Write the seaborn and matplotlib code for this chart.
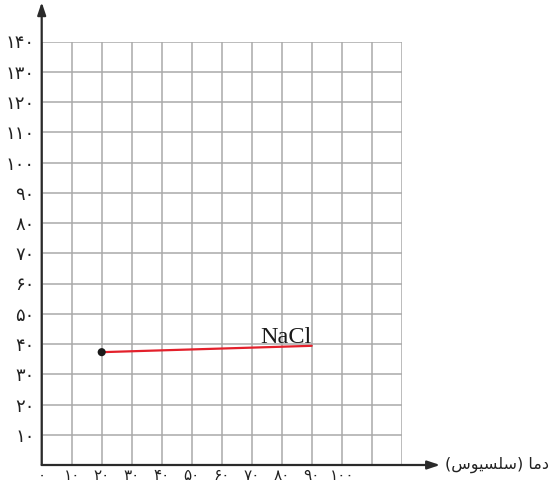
import matplotlib
matplotlib.use("Agg")
import matplotlib.pyplot as plt
import seaborn as sns
import pandas as pd

# data
temps = [20, 90]
solubility = [37.3, 39.4]
salt = "NaCl"
x_ticks = list(range(0, 101, 10))
y_ticks = list(range(10, 141, 10))
x_grid = list(range(0, 121, 10))
y_grid = list(range(0, 141, 10))
# "دما (سلسیوس)" written in shaped, visual order so matplotlib draws it joined
x_label = "(\uFEB1\uFEEE\uFBFF\uFEB4\uFEE0\uFEB3) \uFE8E\uFEE3\uFEA9"

FA_DIGITS = str.maketrans("0123456789", "۰۱۲۳۴۵۶۷۸۹")


def fa(n):
    return str(n).translate(FA_DIGITS)


sns.set_style("white")
plt.rcParams["font.family"] = ["DejaVu Sans"]

df = pd.DataFrame({"temp": temps, "sol": solubility})

fig = plt.figure(figsize=(5.52, 4.88), dpi=100)
ax = fig.add_axes([41.7 / 552, 23 / 488, 360 / 552, 423.5 / 488])
ax.set_xlim(0, 120)
ax.set_ylim(0, 140)

for gx in x_grid:
    ax.axvline(gx, color="#a9a9a9", lw=1.1, zorder=1)
for gy in y_grid:
    ax.axhline(gy, color="#a9a9a9", lw=1.1, zorder=1)

for s in ax.spines.values():
    s.set_visible(False)

# axes with arrow heads
arrow = dict(arrowstyle="-|>,head_length=0.75,head_width=0.25",
             color="#2a2a2a", lw=1.6, shrinkA=0, shrinkB=0)
ax.annotate("", xy=(132.8, 0), xytext=(0, 0), arrowprops=arrow,
            annotation_clip=False, zorder=3)
ax.annotate("", xy=(0, 153), xytext=(0, 0), arrowprops=arrow,
            annotation_clip=False, zorder=3)

sns.lineplot(data=df, x="temp", y="sol", color="#e3202b", lw=1.6, ax=ax,
             zorder=4)
sns.scatterplot(x=temps[:1], y=solubility[:1], color="#1a1a1a", s=34,
                edgecolor="none", ax=ax, zorder=5)

ax.text(temps[-1], 40.4, salt, ha="right", va="baseline", fontsize=17.5,
        family="Liberation Serif", color="#1a1a1a")

ax.set_xticks(x_ticks)
ax.set_xticklabels([fa(v) for v in x_ticks], fontsize=11, color="#222222")
ax.set_yticks(y_ticks)
ax.set_yticklabels([fa(v) for v in y_ticks], fontsize=13, color="#222222")
ax.tick_params(axis="both", length=0)
ax.tick_params(axis="x", pad=2)
ax.tick_params(axis="y", pad=5)
ax.set_xlabel("")
ax.set_ylabel("")

ax.text(134.5, 0, x_label, ha="left", va="center", fontsize=11.5,
        color="#222222", clip_on=False)

fig.savefig("out.png", dpi=100)
plt.close()
